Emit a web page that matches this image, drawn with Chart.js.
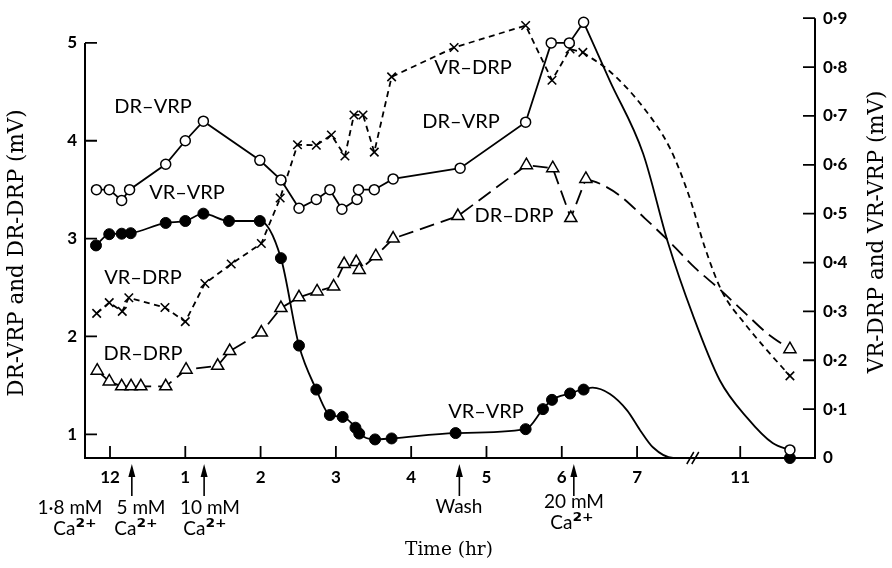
<!DOCTYPE html>
<html><head><meta charset="utf-8">
<script src="https://cdn.jsdelivr.net/npm/chart.js@4/dist/chart.umd.min.js"></script>
<style>html,body{margin:0;padding:0;background:#fff}#wrap{width:892px;height:568px;position:relative}</style>
</head><body><div id="wrap"><canvas id="c" width="892" height="568"></canvas></div>
<script>
// Time axis: clock hours after noon (12 = 0). Hours after the axis break (11 pm) are shifted left by BREAK_GAP.
const BREAK_GAP = 2.63;
const BREAK_AT = 7.74;
const xTickHours = [0, 1, 2, 3, 4, 5, 6, 7, 11];
const xTickLabels = ['12', '1', '2', '3', '4', '5', '6', '7', '11'];
const leftTicks = [1, 2, 3, 4, 5];
const rightTicks = [0, 0.1, 0.2, 0.3, 0.4, 0.5, 0.6, 0.7, 0.8, 0.9];

// DR-VRP (open circles, left axis, mV)
const drVrpTime = [-0.18, -0.01, 0.155, 0.26, 0.74, 1.0, 1.24, 1.99, 2.27, 2.51, 2.74, 2.92, 3.08, 3.28, 3.30, 3.51, 3.76, 4.65, 5.52, 5.86, 6.10, 6.29, 11.66];
const drVrpVal  = [3.50, 3.50, 3.39, 3.50, 3.76, 4.00, 4.20, 3.80, 3.60, 3.31, 3.40, 3.50, 3.30, 3.40, 3.50, 3.50, 3.61, 3.72, 4.19, 5.00, 5.00, 5.21, 0.84];
// hand-drawn curve joining the last two readings
const drVrpCurveTime = [6.29, 6.64, 7.08, 7.41, 7.74, 10.73, 11.09, 11.43, 11.66];
const drVrpCurveVal  = [5.21, 4.61, 3.87, 2.96, 2.22, 1.55, 1.17, 0.91, 0.84];

// DR-DRP (open triangles, left axis, mV)
const drDrpTime = [-0.17, -0.01, 0.155, 0.28, 0.41, 0.74, 1.01, 1.43, 1.59, 2.01, 2.27, 2.51, 2.75, 2.97, 3.11, 3.27, 3.31, 3.53, 3.76, 4.62, 5.53, 5.88, 6.12, 6.32, 11.66];
const drDrpVal  = [1.65, 1.54, 1.49, 1.49, 1.49, 1.49, 1.66, 1.70, 1.85, 2.04, 2.29, 2.40, 2.46, 2.51, 2.74, 2.76, 2.68, 2.82, 3.00, 3.23, 3.75, 3.72, 3.21, 3.61, 1.87];
const drDrpCurveTime = [6.32, 6.51, 6.77, 7.10, 7.44, 10.40, 10.73, 11.09, 11.36, 11.66];
const drDrpCurveVal  = [3.61, 3.56, 3.44, 3.21, 2.96, 2.70, 2.48, 2.22, 2.03, 1.87];

// VR-DRP (crosses, right axis, mV)
const vrDrpTime = [-0.177, -0.01, 0.163, 0.25, 0.73, 1.0, 1.26, 1.61, 2.01, 2.26, 2.49, 2.74, 2.94, 3.12, 3.24, 3.36, 3.51, 3.74, 4.57, 5.52, 5.87, 6.11, 6.28, 11.66];
const vrDrpVal  = [0.296, 0.318, 0.300, 0.328, 0.308, 0.279, 0.357, 0.397, 0.439, 0.532, 0.641, 0.640, 0.661, 0.618, 0.702, 0.702, 0.626, 0.780, 0.840, 0.885, 0.773, 0.837, 0.830, 0.168];
const vrDrpCurveTime = [6.28, 6.64, 7.08, 7.44, 7.70, 10.53, 10.76, 11.06, 11.33, 11.66];
const vrDrpCurveVal  = [0.830, 0.791, 0.718, 0.633, 0.532, 0.431, 0.340, 0.275, 0.225, 0.168];

// VR-VRP (filled circles, right axis, mV)
const vrVrpTime = [-0.186, -0.01, 0.155, 0.275, 0.74, 1.0, 1.24, 1.58, 1.99, 2.27, 2.51, 2.74, 2.92, 3.09, 3.26, 3.31, 3.52, 3.74, 4.59, 5.52, 5.75, 5.87, 6.11, 6.29, 11.66];
const vrVrpVal  = [0.435, 0.458, 0.459, 0.460, 0.481, 0.485, 0.500, 0.485, 0.485, 0.409, 0.230, 0.140, 0.088, 0.084, 0.062, 0.050, 0.038, 0.040, 0.051, 0.059, 0.100, 0.119, 0.132, 0.140, 0.0];
const vrVrpCurveTime = [6.29, 6.41, 6.64, 6.87, 7.04, 7.21, 7.48, 11.66];
const vrVrpCurveVal  = [0.140, 0.144, 0.131, 0.097, 0.057, 0.022, 0.0, 0.0];

// annotations under the time axis
const arrowHours = [0.29, 1.25, 4.64, 6.16];
const noteTexts = [
  ['1·8 mM', 70, 508], ['Ca', 75, 529, '²⁺'],
  ['5 mM', 141, 508], ['Ca', 136, 529, '²⁺'],
  ['10 mM', 210, 508], ['Ca', 205, 529, '²⁺'],
  ['Wash', 459, 507],
  ['20 mM', 574, 502], ['Ca', 572, 523, '²⁺']
];
const seriesLabels = [
  ['DR–VRP', 153, 107], ['VR–VRP', 187, 193], ['VR–DRP', 143, 278], ['DR–DRP', 143, 354],
  ['VR–DRP', 473, 68], ['DR–VRP', 461, 122], ['DR–DRP', 514, 216], ['VR–VRP', 486, 412]
];

const xPos = h => (h > 9 ? h - BREAK_GAP : h);
const pts = (ts, vs) => ts.map((t, i) => ({ x: xPos(t), y: vs[i] }));
const hideLast = n => ({ borderColor: c => (c.p1DataIndex === n - 1 ? 'rgba(0,0,0,0)' : '#000') });

const K = '#000';
const LW = 1.8;
const SHORT = [6, 4.5];
const LONG = [15, 7];

const datasets = [
  { label: 'DR-VRP', yAxisID: 'yL', data: pts(drVrpTime, drVrpVal), borderColor: K, borderWidth: LW, tension: 0,
    pointStyle: 'circle', pointRadius: 5, pointBackgroundColor: '#fff', pointBorderColor: K, pointBorderWidth: 1.5,
    segment: hideLast(drVrpTime.length) },
  { label: 'DR-DRP', yAxisID: 'yL', data: pts(drDrpTime, drDrpVal), borderColor: K, borderWidth: LW, borderDash: LONG, tension: 0,
    pointStyle: 'triangle', pointRadius: 7, pointBackgroundColor: '#fff', pointBorderColor: K, pointBorderWidth: 1.5,
    segment: hideLast(drDrpTime.length) },
  { label: 'VR-DRP', yAxisID: 'yR', data: pts(vrDrpTime, vrDrpVal), borderColor: K, borderWidth: LW, borderDash: SHORT, tension: 0,
    pointStyle: 'crossRot', pointRadius: 6, pointBorderColor: K, pointBorderWidth: 1.6,
    segment: hideLast(vrDrpTime.length) },
  { label: 'VR-VRP', yAxisID: 'yR', data: pts(vrVrpTime, vrVrpVal), borderColor: K, borderWidth: LW, cubicInterpolationMode: 'monotone',
    pointStyle: 'circle', pointRadius: 5.5, pointBackgroundColor: K, pointBorderColor: K, pointBorderWidth: 1,
    segment: hideLast(vrVrpTime.length) },
  { label: 'DR-VRP curve', yAxisID: 'yL', data: pts(drVrpCurveTime, drVrpCurveVal), borderColor: K, borderWidth: LW, pointRadius: 0, cubicInterpolationMode: 'monotone' },
  { label: 'DR-DRP curve', yAxisID: 'yL', data: pts(drDrpCurveTime, drDrpCurveVal), borderColor: K, borderWidth: LW, borderDash: LONG, pointRadius: 0, cubicInterpolationMode: 'monotone' },
  { label: 'VR-DRP curve', yAxisID: 'yR', data: pts(vrDrpCurveTime, vrDrpCurveVal), borderColor: K, borderWidth: LW, borderDash: SHORT, pointRadius: 0, cubicInterpolationMode: 'monotone' },
  { label: 'VR-VRP curve', yAxisID: 'yR', data: pts(vrVrpCurveTime, vrVrpCurveVal), borderColor: K, borderWidth: LW, pointRadius: 0, cubicInterpolationMode: 'monotone' }
];
datasets.forEach(d => { d.clip = false; d.fill = false; d.showLine = true; });

const tickFont = { family: 'Lato', size: 17, weight: 'bold' };

const decor = {
  id: 'decor',
  beforeDatasetsDraw(chart) {
    const { ctx, scales: { x, yL, yR } } = chart;
    const bottom = yL.getPixelForValue(yL.min);
    const left = x.getPixelForValue(x.min), right = x.getPixelForValue(x.max);
    ctx.save();
    ctx.strokeStyle = K; ctx.lineWidth = 2; ctx.lineCap = 'butt';
    ctx.beginPath();
    ctx.moveTo(left, yL.getPixelForValue(leftTicks[leftTicks.length - 1])); ctx.lineTo(left, bottom + 1);
    ctx.moveTo(right, yR.getPixelForValue(rightTicks[rightTicks.length - 1])); ctx.lineTo(right, bottom + 1);
    ctx.moveTo(left - 1, bottom); ctx.lineTo(right + 1, bottom);
    ctx.stroke();
    ctx.lineWidth = 1.8;
    ctx.beginPath();
    leftTicks.forEach(v => { const y = yL.getPixelForValue(v); ctx.moveTo(left, y); ctx.lineTo(left + 12, y); });
    rightTicks.forEach(v => { const y = yR.getPixelForValue(v); ctx.moveTo(right, y); ctx.lineTo(right - 12, y); });
    xTickHours.forEach(h => { const px = x.getPixelForValue(xPos(h)); ctx.moveTo(px, bottom); ctx.lineTo(px, bottom - 12); });
    ctx.stroke();
    // axis break
    const bx = x.getPixelForValue(BREAK_AT);
    ctx.fillStyle = '#fff';
    ctx.fillRect(bx - 2, bottom - 2, 5, 4);
    ctx.lineWidth = 1.5;
    ctx.beginPath();
    ctx.moveTo(bx - 6, bottom + 6); ctx.lineTo(bx + 1, bottom - 6);
    ctx.moveTo(bx - 1, bottom + 6); ctx.lineTo(bx + 6, bottom - 6);
    ctx.stroke();
    ctx.restore();
  },
  afterDraw(chart) {
    const { ctx, scales: { x } } = chart;
    ctx.save();
    ctx.fillStyle = K; ctx.strokeStyle = K;
    // arrows
    arrowHours.forEach(h => {
      const px = x.getPixelForValue(xPos(h));
      ctx.lineWidth = 1.6;
      ctx.beginPath(); ctx.moveTo(px, 496); ctx.lineTo(px, 472); ctx.stroke();
      ctx.beginPath(); ctx.moveTo(px, 464); ctx.lineTo(px - 3.5, 477); ctx.lineTo(px + 3.5, 477); ctx.closePath(); ctx.fill();
    });
    ctx.textBaseline = 'middle';
    const SUPF = 'bold 22px "DejaVu Sans"';
    noteTexts.forEach(([t, px, py, sup]) => {
      if (sup) {
        ctx.textAlign = 'left';
        ctx.font = '19px Lato';
        const w = ctx.measureText(t).width;
        ctx.font = SUPF;
        const ws = ctx.measureText(sup).width;
        const x0 = px - (w + ws) / 2;
        ctx.font = '19px Lato';
        ctx.fillText(t, x0, py);
        ctx.font = SUPF;
        ctx.fillText(sup, x0 + w, py - 1);
      } else {
        ctx.textAlign = 'center';
        ctx.font = '19px Lato';
        ctx.fillText(t, px, py);
      }
    });
    ctx.textAlign = 'center';
    ctx.font = '20px Lato';
    seriesLabels.forEach(([t, px, py]) => ctx.fillText(t, px, py));
    // axis titles
    const fit = (txt, target, base) => {
      ctx.font = base + 'px "DejaVu Serif"';
      const w = ctx.measureText(txt).width;
      return Math.round(base * target / w * 10) / 10;
    };
    const lt = 'DR-VRP and DR-DRP (mV)', rt = 'VR-DRP and VR-VRP (mV)', bt = 'Time (hr)';
    ctx.font = fit(lt, 287, 20) + 'px "DejaVu Serif"';
    ctx.save(); ctx.translate(17, 253); ctx.rotate(-Math.PI / 2); ctx.fillText(lt, 0, 0); ctx.restore();
    ctx.font = fit(rt, 283, 20) + 'px "DejaVu Serif"';
    ctx.save(); ctx.translate(877, 232); ctx.rotate(-Math.PI / 2); ctx.fillText(rt, 0, 0); ctx.restore();
    ctx.font = fit(bt, 88, 20) + 'px "DejaVu Serif"';
    ctx.fillText(bt, 449, 550);
    ctx.restore();
  }
};

new Chart(document.getElementById('c'), {
  type: 'line',
  data: { datasets },
  options: {
    responsive: false, animation: false, devicePixelRatio: 1,
    layout: { padding: { top: 13, left: 0, right: 0, bottom: 0 } },
    plugins: { legend: { display: false }, tooltip: { enabled: false }, title: { display: false } },
    scales: {
      x: {
        type: 'linear', min: -0.332, max: 9.363,
        afterBuildTicks: s => { s.ticks = xTickHours.map(h => ({ value: xPos(h) })); },
        afterFit: s => { s.height = 110; },
        ticks: { callback: (v, i) => xTickLabels[i], font: tickFont, color: K, padding: 9, maxRotation: 0, autoSkip: false },
        grid: { display: false, drawTicks: false }, border: { display: false }
      },
      yL: {
        type: 'linear', position: 'left', min: 0.7576, max: 5.2525,
        afterBuildTicks: s => { s.ticks = leftTicks.map(v => ({ value: v })); },
        afterFit: s => { s.width = 85; },
        ticks: { callback: v => String(v), font: tickFont, color: K, padding: 8 },
        grid: { display: false, drawTicks: false }, border: { display: false }
      },
      yR: {
        type: 'linear', position: 'right', min: 0, max: 0.9,
        afterBuildTicks: s => { s.ticks = rightTicks.map(v => ({ value: v })); },
        afterFit: s => { s.width = 77; },
        ticks: { callback: v => (v === 0 ? '0' : v.toFixed(1).replace('.', '·')), font: tickFont, color: K, padding: 8 },
        grid: { display: false, drawTicks: false }, border: { display: false }
      }
    }
  },
  plugins: [decor]
});
</script>
</body></html>
